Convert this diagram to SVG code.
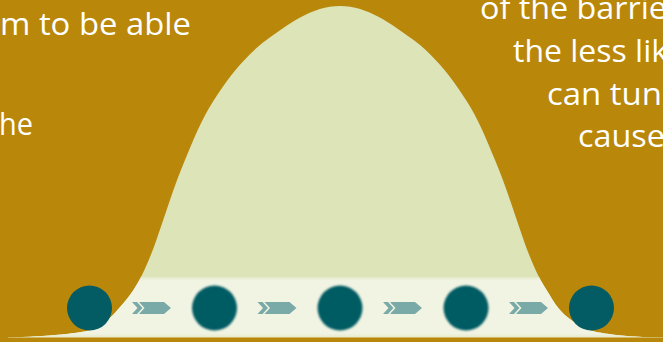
<svg xmlns="http://www.w3.org/2000/svg" width="663" height="342" viewBox="0 0 663 342">
<style>
.bg{fill:#B9870A}
.curve{fill:#DCE4B8}
.txt{font-family:"Open Sans","Noto Sans",sans-serif;font-size:31px;fill:#FFFFFF}
.ball{fill:#035B64}
.chev{fill:#7AAAA8}
</style>
<defs>
<path id="bell" d="M 8,337.5 C 45,336.5 84.3,333 92,329.5 C 106.3,323 111.5,316.5 117.4,310 C 123.4,303.3 129.1,296.7 133.4,290 C 137.7,283.3 141.4,276.7 144.4,270 C 148.9,260 153,250 156.4,240 C 160.9,226.7 165.5,213.3 170,200 C 174.5,186.7 179.4,173.3 185,160 C 193.4,140 201,120 214,100 C 222.7,86.7 231.7,73.3 244.4,60 C 250.7,53.3 257.1,46.7 266.4,40 C 288.8,24 312,6 340,6 C 368,6 391.2,24 413.6,40 C 422.9,46.7 429.3,53.3 435.6,60 C 448.3,73.3 457.3,86.7 466,100 C 479,120 486.6,140 495,160 C 500.6,173.3 505.5,186.7 510,200 C 514.5,213.3 519.1,226.7 523.6,240 C 527,250 531.1,260 535.6,270 C 538.6,276.7 542.3,283.3 546.6,290 C 550.9,296.7 554,303.3 560,310 C 565.9,316.5 573.7,323 588,329.5 C 595.7,333 625,337 663,337.5 L 663,342 L 8,342 Z"/>
<clipPath id="curveClip">
<use href="#bell"/>
</clipPath>
<filter id="blur" x="-20%" y="-20%" width="140%" height="140%">
<feGaussianBlur stdDeviation="1.3"/>
</filter>
<filter id="soft" x="-10%" y="-30%" width="120%" height="160%">
<feGaussianBlur stdDeviation="0.6"/>
</filter>
<linearGradient id="bandGrad" x1="0" y1="0" x2="0" y2="1">
<stop offset="0" stop-color="#E4EAC9"/>
<stop offset="0.06" stop-color="#F1F4E3"/>
<stop offset="0.92" stop-color="#F1F4E3"/>
<stop offset="1" stop-color="#E6E9C6"/>
</linearGradient>
<g id="arrow">
<polygon points="0,0 5,0 10.5,6 5,12 0,12 5.5,6"/>
<polygon points="7,0 32,0 39,6 32,12 7,12 12.5,6"/>
</g>
</defs>
<rect class="bg" x="0" y="0" width="663" height="342"/>
<use href="#bell" class="curve"/>
<g clip-path="url(#curveClip)">
<rect x="0" y="277" width="663" height="61" fill="url(#bandGrad)"/>
</g>
<rect class="bg" x="0" y="337.5" width="663" height="5"/>
<g id="text-left">
<text class="txt" x="0" y="34.5" textLength="191" lengthAdjust="spacingAndGlyphs">m to be able</text>
<text class="txt" x="-1" y="135" textLength="34" lengthAdjust="spacingAndGlyphs">he</text>
</g>
<g id="text-right">
<text class="txt" x="480" y="18.5" textLength="187" lengthAdjust="spacingAndGlyphs">of the barrie</text>
<text class="txt" x="513" y="62" textLength="155" lengthAdjust="spacingAndGlyphs">the less lik</text>
<text class="txt" x="547" y="104.5" textLength="115" lengthAdjust="spacingAndGlyphs">can tun</text>
<text class="txt" x="578" y="146.5" textLength="87" lengthAdjust="spacingAndGlyphs">cause</text>
</g>
<g id="connectors" class="chev" filter="url(#soft)">
<use href="#arrow" x="132" y="302"/>
<use href="#arrow" x="257.5" y="302"/>
<use href="#arrow" x="383" y="302"/>
<use href="#arrow" x="509" y="302"/>
</g>
<g id="ball-start"><circle class="ball" cx="89.5" cy="308" r="22.5"/></g>
<g id="ball-1" filter="url(#blur)"><circle class="ball" cx="214.5" cy="308" r="22.5"/></g>
<g id="ball-2" filter="url(#blur)"><circle class="ball" cx="340" cy="308" r="22.5"/></g>
<g id="ball-3" filter="url(#blur)"><circle class="ball" cx="466" cy="308" r="22.5"/></g>
<g id="ball-end"><circle class="ball" cx="591.5" cy="308" r="22.5"/></g>
</svg>
